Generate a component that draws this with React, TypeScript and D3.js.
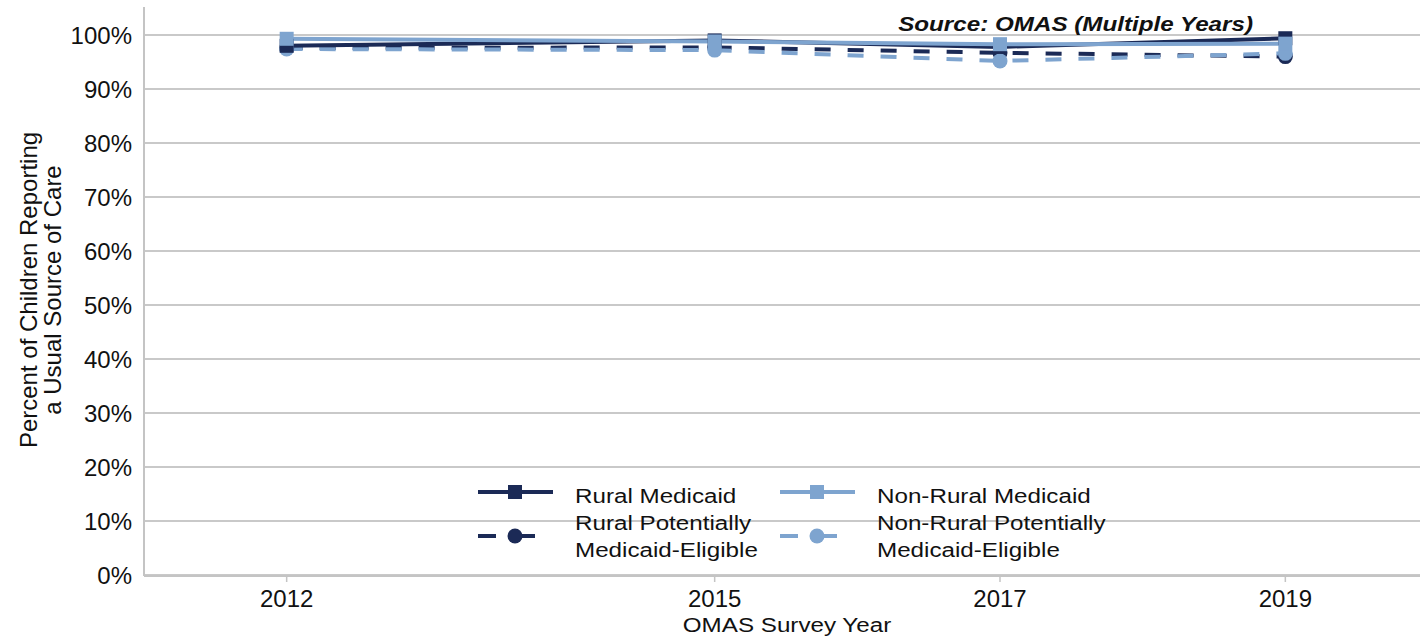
import React from 'react';
import * as d3 from 'd3';

// survey years and series values (percent)
const years = [2012, 2015, 2017, 2019];
const ruralMedicaid = [98.0, 99.0, 97.8, 99.4];
const nonRuralMedicaid = [99.3, 98.8, 98.3, 98.4];
const ruralEligible = [97.6, 97.7, 96.7, 96.0];
const nonRuralEligible = [97.4, 97.2, 95.2, 96.6];
const yTicks = [0, 10, 20, 30, 40, 50, 60, 70, 80, 90, 100];

const DARK = '#1b2a56';
const LIGHT = '#7ea4cf';
const FONT = '"Liberation Sans", Arial, sans-serif';
const STRETCH = 1.21; // the original text is a little wide

const W = 1420;
const H = 636;

const series = [
  { name: ['Rural Medicaid'], values: ruralMedicaid, color: DARK, dashed: false, marker: 'square' },
  { name: ['Non-Rural Medicaid'], values: nonRuralMedicaid, color: LIGHT, dashed: false, marker: 'square' },
  { name: ['Rural Potentially', 'Medicaid-Eligible'], values: ruralEligible, color: DARK, dashed: true, marker: 'circle' },
  { name: ['Non-Rural Potentially', 'Medicaid-Eligible'], values: nonRuralEligible, color: LIGHT, dashed: true, marker: 'circle' },
];

// drawing order: dashed lines under solid, light on top of dark
const drawOrder = [2, 3, 0, 1];

function Marker({ kind, x, y, color }: { kind: string; x: number; y: number; color: string }) {
  if (kind === 'square') {
    return <rect x={x - 7} y={y - 7} width={14} height={14} fill={color} />;
  }
  return <circle cx={x} cy={y} r={7.5} fill={color} />;
}

function WideText({ x, y, anchor, children, ...rest }: any) {
  return (
    <g transform={`translate(${x},${y}) scale(${STRETCH},1)`}>
      <text x={0} y={0} textAnchor={anchor || 'start'} fontSize={20} fill="#111" {...rest}>
        {children}
      </text>
    </g>
  );
}

export default function App() {
  const x = d3.scaleLinear().domain([2011, 2020]).range([144, 1428]);
  const y = d3.scaleLinear().domain([0, 100]).range([575, 35]);

  const line = d3
    .line<number>()
    .x((_, i) => x(years[i]))
    .y(d => y(d));

  const legendItems = [
    { s: series[0], lx: 478, ly: 492 },
    { s: series[1], lx: 780, ly: 492 },
    { s: series[2], lx: 478, ly: 536 },
    { s: series[3], lx: 780, ly: 536 },
  ];

  return (
    <svg width={W} height={H} style={{ position: 'absolute', left: 0, top: 0, background: '#fff' }} fontFamily={FONT}>
      {/* gridlines */}
      {yTicks.map(t => (
        <line key={'g' + t} x1={144} x2={W} y1={y(t)} y2={y(t)} stroke="#c9c9c9" strokeWidth={2} />
      ))}
      {/* axes */}
      <line x1={144} x2={144} y1={7} y2={576} stroke="#c4c4c4" strokeWidth={2} />
      <line x1={144} x2={W} y1={576} y2={576} stroke="#c4c4c4" strokeWidth={2} />
      {years.map(yr => (
        <line key={'t' + yr} x1={x(yr)} x2={x(yr)} y1={576} y2={582} stroke="#c4c4c4" strokeWidth={1.5} />
      ))}
      {yTicks.map(t => (
        <text key={'yl' + t} x={132} y={y(t)} dy="0.36em" textAnchor="end" fontSize={24} fill="#111">
          {t}%
        </text>
      ))}
      {years.map(yr => (
        <text key={'xl' + yr} x={x(yr)} y={607} textAnchor="middle" fontSize={24} fill="#111">
          {yr}
        </text>
      ))}
      <WideText x={787} y={632} anchor="middle">
        OMAS Survey Year
      </WideText>
      <text transform="translate(37,290) rotate(-90)" textAnchor="middle" fontSize={24} fill="#111">
        <tspan x={0} y={0}>Percent of Children Reporting</tspan>
        <tspan x={0} y={24}>a Usual Source of Care</tspan>
      </text>

      {/* series */}
      {drawOrder.map(i => {
        const s = series[i];
        return (
          <path
            key={'s' + i}
            d={line(s.values) || ''}
            fill="none"
            stroke={s.color}
            strokeWidth={4}
            strokeDasharray={s.dashed ? '16 17' : undefined}
          />
        );
      })}
      {drawOrder.map(i => {
        const s = series[i];
        return (
          <g key={'m' + i}>
            {s.values.map((v, j) => (
              <Marker key={j} kind={s.marker} x={x(years[j])} y={y(v)} color={s.color} />
            ))}
          </g>
        );
      })}

      <WideText x={1253} y={31} anchor="end" fontWeight="bold" fontStyle="italic">
        Source: OMAS (Multiple Years)
      </WideText>

      {/* legend */}
      {legendItems.map(({ s, lx, ly }, k) => (
        <g key={'l' + k}>
          {s.dashed ? (
            <>
              <line x1={lx} x2={lx + 18} y1={ly} y2={ly} stroke={s.color} strokeWidth={4} />
              <line x1={lx + 37} x2={lx + 57} y1={ly} y2={ly} stroke={s.color} strokeWidth={4} />
            </>
          ) : (
            <line x1={lx} x2={lx + 75} y1={ly} y2={ly} stroke={s.color} strokeWidth={4} />
          )}
          <Marker kind={s.marker} x={lx + 37} y={ly} color={s.color} />
          {s.name.length === 1 ? (
            <WideText x={lx + 97} y={ly + 11}>{s.name[0]}</WideText>
          ) : (
            <>
              <WideText x={lx + 97} y={ly - 6}>{s.name[0]}</WideText>
              <WideText x={lx + 97} y={ly + 21}>{s.name[1]}</WideText>
            </>
          )}
        </g>
      ))}
    </svg>
  );
}
